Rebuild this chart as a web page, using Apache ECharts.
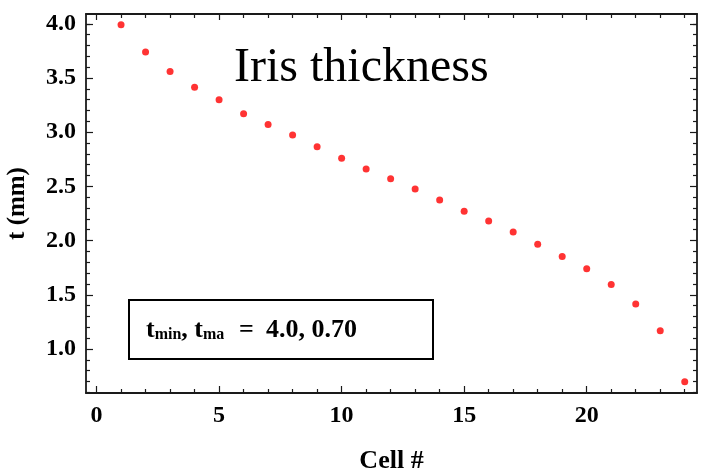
<!DOCTYPE html>
<html>
<head>
<meta charset="utf-8">
<script src="https://cdn.jsdelivr.net/npm/echarts@6/dist/echarts.min.js"></script>
<style>
html,body{margin:0;padding:0;background:#fff;}
#chart{width:701px;height:474px;}
</style>
</head>
<body>
<div id="chart"></div>
<script>
const cells = [1,2,3,4,5,6,7,8,9,10,11,12,13,14,15,16,17,18,19,20,21,22,23,24];
const thickness = [3.99,3.74,3.56,3.415,3.30,3.17,3.07,2.975,2.865,2.76,2.66,2.57,2.475,2.375,2.27,2.18,2.08,1.967,1.852,1.739,1.594,1.415,1.169,0.698];
const xMajorTicks = [0,5,10,15,20];
const xMinorTicks = [1,2,3,4,6,7,8,9,11,12,13,14,16,17,18,19,21,22,23,24];
const yMajorTicks = [1.0,1.5,2.0,2.5,3.0,3.5,4.0];
const yMinorTicks = [0.6,0.7,0.8,0.9,1.1,1.2,1.3,1.4,1.6,1.7,1.8,1.9,2.1,2.2,2.3,2.4,2.6,2.7,2.8,2.9,3.1,3.2,3.3,3.4,3.6,3.7,3.8,3.9,4.0];
const titleText = 'Iris thickness';
const xName = 'Cell #';
const yName = 't (mm)';
const boxValues = '4.0, 0.70';

const FONT = '"Liberation Serif","Times New Roman",serif';
const LINE = '#1a1a1a';
const X_MIN = -0.43, X_MAX = 24.5, Y_MIN = 0.594, Y_MAX = 4.09;

function xAx(pos, ticks, len, showLine, showLabel, extra){
  return Object.assign({
    type:'value', position:pos, min:X_MIN, max:X_MAX,
    axisLine:{show:showLine, onZero:false, lineStyle:{color:LINE, width:1.8}},
    axisTick:{show:true, inside:true, length:len, customValues:ticks, lineStyle:{color:LINE, width:1.2}},
    axisLabel:{show:showLabel, customValues:ticks, margin:11, color:'#000', fontFamily:FONT, fontWeight:'bold', fontSize:24,
      formatter:v=>String(v)},
    splitLine:{show:false}
  }, extra||{});
}
function yAx(pos, ticks, len, showLine, showLabel, extra){
  return Object.assign({
    type:'value', position:pos, min:Y_MIN, max:Y_MAX,
    axisLine:{show:showLine, onZero:false, lineStyle:{color:LINE, width:1.8}},
    axisTick:{show:true, inside:true, length:len, customValues:ticks, lineStyle:{color:LINE, width:1.2}},
    axisLabel:{show:showLabel, customValues:ticks, margin:10, color:'#000', fontFamily:FONT, fontWeight:'bold', fontSize:24,
      formatter:v=>v.toFixed(1)},
    splitLine:{show:false}
  }, extra||{});
}

const richStyles = {
  a:{fontFamily:FONT, fontWeight:'bold', fontSize:26, fill:'#000', verticalAlign:'bottom', lineHeight:28},
  b:{fontFamily:FONT, fontWeight:'bold', fontSize:16, fill:'#000', verticalAlign:'bottom', lineHeight:28}
};

const chart = echarts.init(document.getElementById('chart'), null, {renderer:'canvas'});
chart.setOption({
  animation:false,
  backgroundColor:'#fff',
  grid:{left:86, right:4, top:14, bottom:81, containLabel:false, outerBoundsMode:'none'},
  title:{text:titleText, left:229, top:39, textStyle:{fontFamily:FONT, fontWeight:'normal', fontSize:48, color:'#000'}},
  xAxis:[
    xAx('bottom', xMajorTicks, 7, true, true, {name:xName, nameLocation:'middle', nameGap:55,
      nameTextStyle:{fontFamily:FONT, fontWeight:'bold', fontSize:26, color:'#000'}}),
    xAx('bottom', xMinorTicks, 4, false, false),
    xAx('top', xMajorTicks, 6, true, false),
    xAx('top', xMinorTicks, 4, false, false)
  ],
  yAxis:[
    yAx('left', yMajorTicks, 7, true, true, {name:yName, nameLocation:'middle', nameGap:56,
      nameTextStyle:{fontFamily:FONT, fontWeight:'bold', fontSize:25, color:'#000'}}),
    yAx('left', yMinorTicks, 4, false, false),
    yAx('right', yMajorTicks, 7, true, false),
    yAx('right', yMinorTicks, 4, false, false)
  ],
  graphic:[
    {type:'rect', left:128, top:299, shape:{width:304, height:59}, style:{fill:'#fff', stroke:'#000', lineWidth:2}},
    {type:'text', left:146, top:317, style:{text:'{a|t}{b|min}{a|, t}{b|ma}', rich:richStyles}},
    {type:'text', left:239, top:317, style:{text:'{a|=}', rich:richStyles}},
    {type:'text', left:266, top:317, style:{text:'{a|' + boxValues + '}', rich:richStyles}}
  ],
  series:[{
    type:'scatter', xAxisIndex:0, yAxisIndex:0,
    data:cells.map((c,i)=>[c, thickness[i]]),
    symbol:'circle', symbolSize:7,
    itemStyle:{color:'#ff0000'}
  }]
});
</script>
</body>
</html>
